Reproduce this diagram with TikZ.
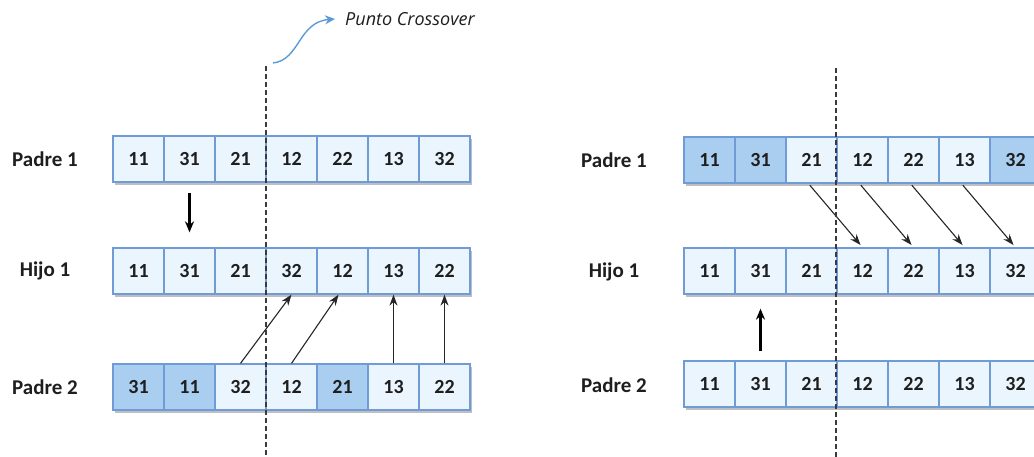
\documentclass[tikz,border=0pt]{standalone}
\usepackage{fontspec}
\setmainfont{Carlito}
\newfontfamily\notafont{Open Sans}
\usetikzlibrary{arrows.meta,positioning,shadows}
\definecolor{GenBorde}{HTML}{6F9BD8}
\definecolor{GenClaro}{HTML}{EAF5FD}
\definecolor{GenOscuro}{HTML}{A9CEF0}
\definecolor{CorteGris}{HTML}{3A3A3A}
\definecolor{NotaAzul}{HTML}{5B9BD5}
\definecolor{TextoFila}{HTML}{1E1E1E}
\tikzset{
  gen/.style={draw=GenBorde,fill=GenClaro,line width=1.3pt,minimum width=51pt,minimum height=46pt,inner sep=0pt,font=\fontsize{20}{22}\selectfont\bfseries,text=TextoFila,drop shadow={shadow xshift=2pt,shadow yshift=-3pt,fill=black,opacity=0.25}},
  genosc/.style={gen,fill=GenOscuro},
  fila/.style={font=\fontsize{21}{24}\selectfont\bfseries,text=TextoFila},
  nota/.style={font=\notafont\itshape\fontsize{18}{21}\selectfont,text=TextoFila,inner sep=0pt},
  corte/.style={dash pattern=on 5pt off 3pt,line width=1.2pt,draw=CorteGris},
  paso/.style={-{Stealth[length=11pt,width=8pt]},line width=1.1pt,draw=black!85},
  pasogrueso/.style={-{Stealth[length=11pt,width=9pt]},line width=2.2pt},
  curva/.style={-{Stealth[length=10pt,width=9pt]},line width=1.4pt,draw=NotaAzul}
}
\begin{document}
\begin{tikzpicture}[x=1pt,y=-1pt]
\useasboundingbox (0,0) rectangle (1034,457);

% cruce de un punto
\node[fila] (lp1) at (45,159) {Padre 1};
\node[fila] (lh1) at (45,271) {Hijo 1};
\node[fila] (lp2) at (45,387) {Padre 2};
\foreach \v/\e [count=\i] in {11/gen,31/gen,21/gen,12/gen,22/gen,13/gen,32/gen}
  \node[\e] (lp1-\i) at ({87.5+51*\i},159) {\v};
\foreach \v/\e [count=\i] in {11/gen,31/gen,21/gen,32/gen,12/gen,13/gen,22/gen}
  \node[\e] (lh1-\i) at ({87.5+51*\i},271) {\v};
\foreach \v/\e [count=\i] in {31/genosc,11/genosc,32/gen,12/gen,21/genosc,13/gen,22/gen}
  \node[\e] (lp2-\i) at ({87.5+51*\i},387) {\v};

\draw[pasogrueso,shorten <=10pt,shorten >=15pt] (lp1-2) -- (lh1-2);
\draw[paso] (lp2-3.north) -- (lh1-4.south);
\draw[paso] (lp2-4.north) -- ([xshift=-4pt]lh1-5.south);
\draw[paso] (lp2-6.north) -- (lh1-6.south);
\draw[paso] (lp2-7.north) -- (lh1-7.south);

\coordinate (cl-ini) at (266,66);
\coordinate (cl-fin) at (266,457);
\draw[corte] (cl-ini) -- (cl-fin);

% etiqueta del punto de corte
\node[nota,anchor=west] (pc) at (345,19) {Punto Crossover};
\coordinate (pc-ini) at (273,63);
\draw[curva] (pc-ini) .. controls (300,60) and (298,22) .. ([xshift=-10pt]pc.west);

% cruce ordenado
\node[fila] (rp1) at (614,160) {Padre 1};
\node[fila] (rh1) at (614,272) {Hijo 1};
\node[fila] (rp2) at (614,385) {Padre 2};
\foreach \v/\e [count=\i] in {11/genosc,31/genosc,21/gen,12/gen,22/gen,13/gen,32/genosc}
  \node[\e] (rp1-\i) at ({658.5+51*\i},160) {\v};
\foreach \v/\e [count=\i] in {11/gen,31/gen,21/gen,12/gen,22/gen,13/gen,32/gen}
  \node[\e] (rh1-\i) at ({658.5+51*\i},271) {\v};
\foreach \v/\e [count=\i] in {11/gen,31/gen,21/gen,12/gen,22/gen,13/gen,32/gen}
  \node[\e] (rp2-\i) at ({658.5+51*\i},384) {\v};

\foreach \i [evaluate=\i as \j using int(\i+1)] in {3,4,5,6}
  \draw[paso,shorten <=2pt,shorten >=3pt] ([xshift=-3pt]rp1-\i.south) -- (rh1-\j.north);
\draw[pasogrueso,shorten <=9pt,shorten >=14pt] (rp2-2) -- (rh1-2);

\coordinate (cr-ini) at (836,68);
\coordinate (cr-fin) at (836,457);
\draw[corte] (cr-ini) -- (cr-fin);
\end{tikzpicture}
\end{document}
